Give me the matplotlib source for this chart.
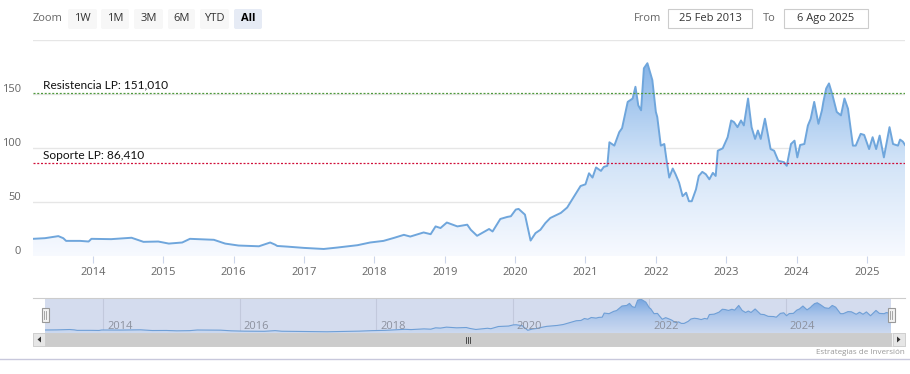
import matplotlib
matplotlib.use("Agg")
import matplotlib.pyplot as plt
import numpy as np
from matplotlib.patches import FancyBboxPatch, Rectangle, Polygon
from matplotlib.colors import LinearSegmentedColormap

# ---------------- data ----------------
years = [2013.15, 2013.32, 2013.51, 2013.58, 2013.62, 2013.82, 2013.94, 2013.98, 2014.26, 2014.55,
         2014.72, 2014.93, 2015.08, 2015.27, 2015.38, 2015.60, 2015.72, 2015.88, 2016.07, 2016.36,
         2016.52, 2016.59, 2016.62, 2016.76, 2017.00, 2017.28, 2017.47, 2017.76, 2017.94, 2018.13,
         2018.28, 2018.42, 2018.51, 2018.70, 2018.80, 2018.87, 2018.94, 2019.03, 2019.18, 2019.32,
         2019.37, 2019.46, 2019.63, 2019.68, 2019.79, 2019.89, 2019.94, 2020.01, 2020.05, 2020.14,
         2020.22, 2020.29, 2020.36, 2020.43, 2020.50, 2020.65, 2020.74, 2020.84, 2020.93, 2021.00,
         2021.05, 2021.10, 2021.15, 2021.22, 2021.26, 2021.31, 2021.34, 2021.41, 2021.48, 2021.52,
         2021.60, 2021.67, 2021.71, 2021.75, 2021.79, 2021.83, 2021.88, 2021.95, 2022.00, 2022.02,
         2022.07, 2022.12, 2022.15, 2022.19, 2022.24, 2022.28, 2022.33, 2022.38, 2022.43, 2022.47,
         2022.51, 2022.57, 2022.61, 2022.66, 2022.71, 2022.76, 2022.81, 2022.85, 2022.88, 2022.95,
         2023.02, 2023.07, 2023.11, 2023.16, 2023.21, 2023.25, 2023.31, 2023.36, 2023.41, 2023.45,
         2023.49, 2023.55, 2023.63, 2023.68, 2023.74, 2023.82, 2023.86, 2023.92, 2023.97, 2024.01,
         2024.05, 2024.11, 2024.16, 2024.20, 2024.25, 2024.31, 2024.36, 2024.38, 2024.42, 2024.46,
         2024.51, 2024.57, 2024.63, 2024.68, 2024.73, 2024.80, 2024.84, 2024.91, 2024.96, 2025.03,
         2025.08, 2025.13, 2025.18, 2025.24, 2025.32, 2025.37, 2025.44, 2025.47, 2025.51, 2025.54]
prices = [15.9, 16.5, 18.4, 16.5, 14.0, 14.0, 13.4, 15.9, 15.6, 16.9,
          13.1, 13.4, 11.5, 12.5, 15.9, 15.3, 15.0, 11.5, 9.7, 9.0,
          12.5, 10.5, 9.3, 8.7, 7.5, 6.5, 7.8, 10.0, 12.5, 14.0,
          16.8, 19.6, 18.0, 21.8, 20.2, 27.4, 25.9, 31.0, 27.4, 29.0,
          24.3, 18.7, 25.0, 22.7, 34.3, 36.2, 36.8, 43.0, 43.6, 38.3,
          14.3, 21.2, 24.3, 30.5, 35.2, 39.9, 44.9, 55.4, 64.8, 66.4,
          76.6, 72.6, 82.0, 78.8, 82.5, 83.5, 105.3, 102.2, 114.7, 118.4,
          142.7, 145.8, 156.7, 139.5, 134.9, 173.8, 178.5, 162.9, 133.4, 128.7,
          102.2, 103.7, 89.7, 72.6, 81.0, 75.7, 67.9, 55.4, 58.6, 50.7,
          50.7, 61.7, 74.1, 77.9, 75.7, 71.0, 77.0, 74.1, 97.5, 99.7,
          110.0, 125.5, 124.0, 119.3, 125.5, 120.9, 145.8, 119.3, 108.4, 116.2,
          108.4, 127.1, 99.0, 97.5, 88.1, 86.9, 83.5, 103.7, 106.8, 91.3,
          102.8, 103.7, 120.8, 127.1, 142.7, 122.4, 134.9, 142.7, 155.1, 159.8,
          148.9, 133.4, 130.2, 145.8, 136.4, 102.2, 102.2, 113.1, 112.1, 99.0,
          110.0, 99.0, 111.5, 91.3, 119.3, 103.7, 102.2, 107.8, 105.9, 102.8]

resistance = 151.010
support = 86.410
resistance_label = "Resistencia LP: 151,010"
support_label = "Soporte LP: 86,410"
y_ticks = [0, 50, 100, 150]
y_grid = [0, 50, 100, 150, 200]
x_ticks = list(range(2014, 2026))
nav_ticks = [2014, 2016, 2018, 2020, 2022, 2024]
zoom_buttons = ["1W", "1M", "3M", "6M", "YTD", "All"]
from_date = "25 Feb 2013"
to_date = "6 Ago 2025"
credit = "Estrategias de Inversión"

W, H = 910, 374
fig = plt.figure(figsize=(W / 100, H / 100), dpi=100, facecolor="white")

def px_axes(l, t, r, b):
    return fig.add_axes([l / W, 1 - b / H, (r - l) / W, (b - t) / H])

x = np.array(years)
y = np.array(prices)
LINE = "#6fa6dc"
xmin, xmax = x[0], x[-1]

def gradient_area(a, cmap, top, z=1):
    poly_xy = np.column_stack([np.r_[x, x[::-1]], np.r_[y, np.zeros_like(y)]])
    poly = Polygon(poly_xy, closed=True, facecolor="none", edgecolor="none")
    a.add_patch(poly)
    grad = np.linspace(0, 1, 256).reshape(-1, 1)
    im = a.imshow(grad, extent=[xmin, xmax, 0, top], origin="lower", aspect="auto",
                  cmap=cmap, zorder=z)
    im.set_clip_path(poly)

# ---------------- main chart ----------------
ax = px_axes(33, 40, 905, 256)
ax.set_xlim(xmin, xmax)
ax.set_ylim(0, 200)
for s in ax.spines.values():
    s.set_visible(False)
for g in y_grid:
    ax.axhline(g, color="#e6e6e6", lw=1.0, zorder=0)
ax.axhline(0, color="#ccd6eb", lw=1.0, zorder=1)

cmap = LinearSegmentedColormap.from_list("g", [(0.97, 0.98, 1.0), (0.82, 0.89, 0.97), (0.53, 0.71, 0.91)])
gradient_area(ax, cmap, y.max())
ax.plot(x, y, color=LINE, lw=1.4, zorder=3, solid_joinstyle="round")

ax.axhline(resistance, color="#4f9a3c", lw=0.9, ls=(0, (1.6, 1.4)), zorder=4)
ax.axhline(support, color="#d0103a", lw=0.9, ls=(0, (1.6, 1.4)), zorder=4)
for val, lbl in ((resistance, resistance_label), (support, support_label)):
    ax.annotate(lbl, xy=(0, val), xycoords=("axes fraction", "data"),
                xytext=(10, 2), textcoords="offset pixels", ha="left", va="bottom",
                fontsize=8.6, family="Lato", color="#111111", zorder=5)

ax.set_yticks([])
for v in y_ticks:
    ax.annotate(str(v), xy=(0, v), xycoords=("axes fraction", "data"),
                xytext=(-12, 5), textcoords="offset pixels", ha="right", va="center",
                fontsize=8, family="Open Sans", color="#666666")
ax.set_xticks(x_ticks)
ax.set_xticklabels([str(t) for t in x_ticks], fontsize=8, family="Open Sans", color="#666666")
ax.tick_params(axis="x", length=5, width=0.8, color="#ccd6eb", pad=3)

# ---------------- navigator ----------------
nav = px_axes(45, 298, 891, 333)
nav.set_xlim(xmin, xmax)
nav.set_ylim(0, 185)
nav.set_facecolor("#d4dcee")
for s in nav.spines.values():
    s.set_visible(False)
ncmap = LinearSegmentedColormap.from_list("n", [(0.80, 0.85, 0.94), (0.68, 0.78, 0.92), (0.47, 0.65, 0.88)])
gradient_area(nav, ncmap, y.max(), z=2)
nav.plot(x, y, color="#6f9fd6", lw=0.8, zorder=3)
for t in nav_ticks:
    nav.axvline(t, color="#c2c9dc", lw=0.8, zorder=1)
    nav.annotate(str(t), xy=(t, 0), xycoords="data", xytext=(4, 1), textcoords="offset pixels",
                 fontsize=8, family="Open Sans", color="#8c919e", ha="left", va="bottom", zorder=5)
nav.set_xticks([])
nav.set_yticks([])

# ---------------- UI overlay ----------------
ui = fig.add_axes([0, 0, 1, 1], facecolor="none")
ui.set_xlim(0, W)
ui.set_ylim(H, 0)
ui.axis("off")

ui.text(33, 18, "Zoom", fontsize=8, family="Open Sans", color="#666666", ha="left", va="center")
btn_x = [68, 101, 134, 168, 200, 234]
btn_w = [29, 28, 29, 27, 29, 28]
for lbl, bx, bw in zip(zoom_buttons, btn_x, btn_w):
    sel = lbl == "All"
    ui.add_patch(FancyBboxPatch((bx, 9), bw, 20, boxstyle="round,pad=0,rounding_size=2",
                                facecolor="#e6ebf5" if sel else "#f7f7f7", edgecolor="none"))
    ui.text(bx + bw / 2, 18.5, lbl, fontsize=8, family="Open Sans", color="#000000" if sel else "#333333",
            fontweight="bold" if sel else "normal", ha="center", va="center")

ui.text(634, 18.5, "From", fontsize=8, family="Open Sans", color="#666666", ha="left", va="center")
ui.add_patch(Rectangle((668, 9), 84, 19, facecolor="white", edgecolor="#cccccc", lw=0.8))
ui.text(710, 18.5, from_date, fontsize=8, family="Open Sans", color="#333333", ha="center", va="center")
ui.text(763, 18.5, "To", fontsize=8, family="Open Sans", color="#666666", ha="left", va="center")
ui.add_patch(Rectangle((784, 9), 84, 19, facecolor="white", edgecolor="#cccccc", lw=0.8))
ui.text(826, 18.5, to_date, fontsize=8, family="Open Sans", color="#333333", ha="center", va="center")

# navigator outline + handles
ui.plot([33, 905], [298, 298], color="#cccccc", lw=0.8)
for hx in (45, 891):
    ui.add_patch(Rectangle((hx - 3.5, 308), 7, 14, facecolor="#f2f2f2", edgecolor="#999999", lw=0.8))
    ui.plot([hx - 1, hx - 1], [311, 319], color="#999999", lw=0.6)
    ui.plot([hx + 1, hx + 1], [311, 319], color="#999999", lw=0.6)

# scrollbar
ui.add_patch(Rectangle((33, 333), 872, 13, facecolor="#f2f2f2", edgecolor="#dddddd", lw=0.6))
ui.add_patch(Rectangle((45, 333), 846, 13, facecolor="#cccccc", edgecolor="#cccccc", lw=0.6))
ui.add_patch(Rectangle((33, 333), 12, 13, facecolor="#e6e6e6", edgecolor="#cccccc", lw=0.6))
ui.add_patch(Rectangle((893, 333), 12, 13, facecolor="#e6e6e6", edgecolor="#cccccc", lw=0.6))
ui.add_patch(Polygon([[41, 336.5], [41, 342.5], [37.5, 339.5]], closed=True, facecolor="#333333", edgecolor="none"))
ui.add_patch(Polygon([[897, 336.5], [897, 342.5], [900.5, 339.5]], closed=True, facecolor="#333333", edgecolor="none"))
for gx in (466, 468, 470):
    ui.plot([gx, gx], [336.5, 342.5], color="#333333", lw=0.6)

ui.text(905, 352.5, credit, fontsize=5.8, family="Open Sans", color="#999999", ha="right", va="center")
ui.plot([0, W], [359, 359], color="#c8c8dc", lw=1.0)

fig.savefig("out.png", dpi=100, facecolor="white")
